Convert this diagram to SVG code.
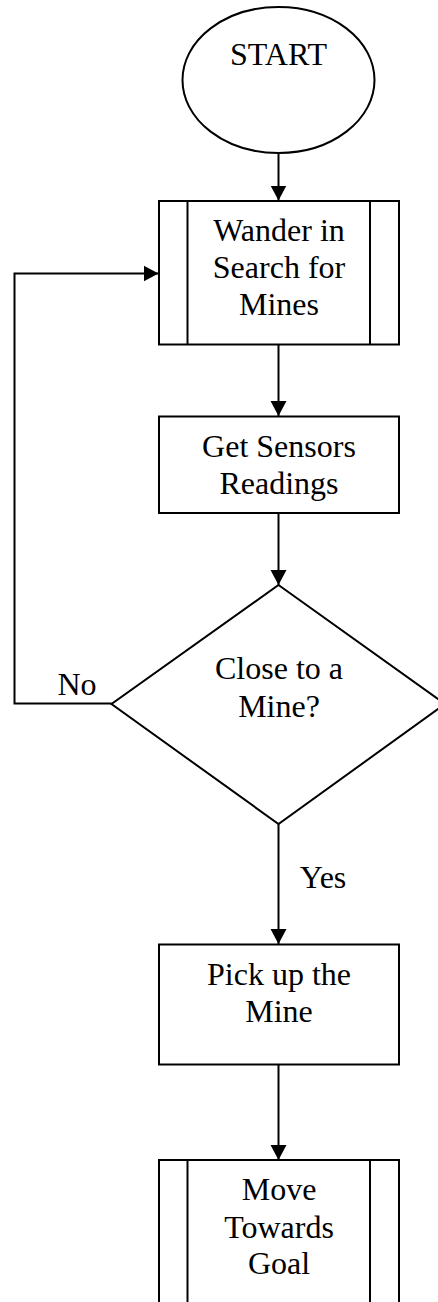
<svg xmlns="http://www.w3.org/2000/svg" width="438" height="1302" viewBox="0 0 438 1302">
  <style>
    .shape { fill: #ffffff; stroke: #000000; stroke-width: 2; }
    .edge { fill: none; stroke: #000000; stroke-width: 2; }
    .label { font-family: "Liberation Serif", "Times New Roman", serif; font-size: 32px; fill: #000000; text-anchor: middle; }
  </style>
  <defs>
    <marker id="arrow" markerUnits="userSpaceOnUse" markerWidth="17" markerHeight="17" refX="15" refY="8.5" orient="auto">
      <path d="M0,0.5 L15,8.5 L0,16.5 z" fill="#000000"/>
    </marker>
  </defs>
  <rect width="438" height="1302" fill="#ffffff"/>

  <!-- connectors -->
  <g id="connectors">
    <path class="edge" d="M278.5,153 L278.5,200.5" marker-end="url(#arrow)"/>
    <path class="edge" d="M278.5,344.5 L278.5,416" marker-end="url(#arrow)"/>
    <path class="edge" d="M278.5,513 L278.5,585" marker-end="url(#arrow)"/>
    <path class="edge" d="M111.5,703.5 L14.5,703.5 L14.5,273.5 L158.5,273.5" marker-end="url(#arrow)"/>
    <path class="edge" d="M278.5,824 L278.5,944" marker-end="url(#arrow)"/>
    <path class="edge" d="M278.5,1064.5 L278.5,1160" marker-end="url(#arrow)"/>
    <text class="label" x="77" y="695">No</text>
    <text class="label" x="323" y="888">Yes</text>
  </g>

  <!-- start terminal -->
  <g id="start">
    <ellipse class="shape" cx="278.5" cy="80" rx="96" ry="73"/>
    <text class="label" x="278.5" y="65">START</text>
  </g>

  <!-- predefined process: wander -->
  <g id="wander">
    <rect class="shape" x="159" y="201" width="240" height="143.5"/>
    <line class="edge" x1="187.5" y1="201" x2="187.5" y2="344.5"/>
    <line class="edge" x1="370" y1="201" x2="370" y2="344.5"/>
    <text class="label" x="279" y="241">Wander in</text>
    <text class="label" x="279" y="278">Search for</text>
    <text class="label" x="279" y="315">Mines</text>
  </g>

  <!-- process: sensors -->
  <g id="sensors">
    <rect class="shape" x="159" y="416.5" width="240" height="96.5"/>
    <text class="label" x="279" y="457">Get Sensors</text>
    <text class="label" x="279" y="493.5">Readings</text>
  </g>

  <!-- decision -->
  <g id="decision">
    <polygon class="shape" points="278.5,585 445,704 278.5,824 111.5,704"/>
    <text class="label" x="279" y="679">Close to a</text>
    <text class="label" x="279" y="716.5">Mine?</text>
  </g>

  <!-- process: pick up -->
  <g id="pickup">
    <rect class="shape" x="159" y="944.5" width="240" height="120"/>
    <text class="label" x="279" y="985">Pick up the</text>
    <text class="label" x="279" y="1021.5">Mine</text>
  </g>

  <!-- predefined process: move -->
  <g id="move">
    <rect class="shape" x="159" y="1160" width="240" height="170"/>
    <line class="edge" x1="187.5" y1="1160" x2="187.5" y2="1330"/>
    <line class="edge" x1="370" y1="1160" x2="370" y2="1330"/>
    <text class="label" x="279" y="1200">Move</text>
    <text class="label" x="279" y="1237.5">Towards</text>
    <text class="label" x="279" y="1274">Goal</text>
  </g>
</svg>
